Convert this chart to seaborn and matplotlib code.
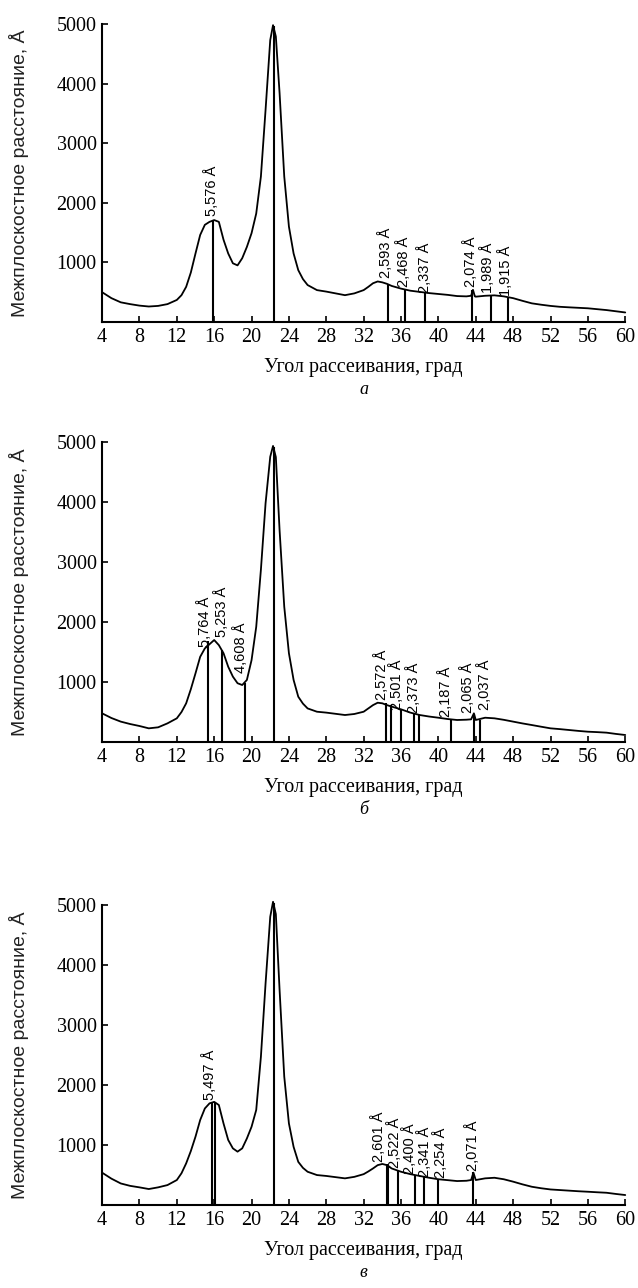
import matplotlib
matplotlib.use("Agg")
import pandas as pd
import seaborn as sns
import matplotlib.pyplot as plt

# --- data ---
angle_a = [4, 5, 6, 7, 8, 9, 10, 11, 12, 12.5, 13, 13.5, 14, 14.5, 15, 15.5, 16, 16.5, 17, 17.5,
           18, 18.5, 19, 19.5, 20, 20.5, 21, 21.5, 22, 22.3, 22.6, 23, 23.5, 24, 24.5, 25, 25.5,
           26, 27, 28, 29, 30, 31, 32, 32.5, 33, 33.5, 34, 34.5, 35, 36, 37, 38, 39, 40, 41, 42,
           43, 43.5, 43.7, 43.9, 44, 45, 46, 47, 48, 49, 50, 51, 52, 53, 54, 55, 56, 57, 58, 59, 60]
signal_a = [500, 400, 330, 300, 275, 260, 270, 300, 370, 450, 590, 830, 1150, 1460, 1630, 1680,
            1710, 1680, 1380, 1150, 985, 950, 1070, 1260, 1490, 1820, 2440, 3560, 4730, 4980, 4790,
            3840, 2440, 1600, 1150, 870, 720, 620, 535, 510, 480, 450, 480, 535, 590, 650, 680, 665,
            640, 605, 560, 525, 505, 485, 470, 455, 435, 430, 440, 540, 430, 425, 440, 447, 430,
            400, 355, 313, 290, 270, 255, 246, 238, 230, 215, 200, 180, 160]
peaks_a = [15.9, 22.4, 34.6, 36.45, 38.6, 43.65, 45.6, 47.45]
heights_a = [1700, 4960, 645, 560, 500, 535, 445, 405]
labels_a = ["5,576 Å", "2,593 Å", "2,468 Å", "2,337 Å", "2,074 Å", "1,989 Å", "1,915 Å"]
label_x_a = [15.75, 34.3, 36.25, 38.5, 43.4, 45.3, 47.15]
label_y_a = [1770, 735, 590, 485, 590, 490, 435]

angle_b = [4, 5, 6, 7, 8, 9, 10, 11, 12, 12.5, 13, 13.5, 14, 14.5, 15, 15.5, 16, 16.5, 17, 17.5,
           18, 18.5, 19, 19.5, 20, 20.5, 21, 21.5, 22, 22.3, 22.6, 23, 23.5, 24, 24.5, 25, 25.5,
           26, 27, 28, 29, 30, 31, 32, 32.5, 33, 33.5, 34, 34.5, 35, 36, 37, 38, 39, 40, 41, 42,
           43, 43.5, 43.8, 44, 45, 46, 47, 48, 49, 50, 51, 52, 53, 54, 55, 56, 57, 58, 59, 60]
signal_b = [478, 400, 340, 300, 267, 228, 245, 311, 395, 500, 645, 880, 1145, 1420, 1560, 1630,
            1700, 1615, 1480, 1255, 1090, 980, 950, 1035, 1365, 1920, 2870, 3980, 4755, 4935, 4750,
            3530, 2255, 1480, 1035, 755, 640, 560, 505, 490, 470, 450, 467, 505, 560, 615, 655, 645,
            615, 590, 545, 490, 450, 425, 405, 383, 367, 372, 378, 478, 367, 405, 395, 370, 340,
            310, 283, 255, 228, 215, 200, 185, 172, 165, 156, 135, 117]
peaks_b = [15.35, 16.85, 19.25, 22.4, 34.4, 34.9, 36.0, 37.4, 37.95, 41.3, 43.85, 44.5]
heights_b = [1680, 1540, 980, 4920, 650, 620, 545, 475, 455, 380, 460, 375]
labels_b = ["5,764 Å", "5,253 Å", "4,608 Å", "2,572 Å", "2,501 Å", "2,373 Å", "2,187 Å",
            "2,065 Å", "2,037 Å"]
label_x_b = [14.95, 16.75, 18.85, 33.9, 35.55, 37.3, 40.8, 43.15, 44.9]
label_y_b = [1590, 1755, 1150, 700, 533, 480, 420, 480, 533]

angle_c = [4, 5, 6, 7, 8, 9, 10, 11, 12, 12.5, 13, 13.5, 14, 14.5, 15, 15.5, 16, 16.5, 17, 17.5,
           18, 18.5, 19, 19.5, 20, 20.5, 21, 21.5, 22, 22.3, 22.6, 23, 23.5, 24, 24.5, 25, 25.5,
           26, 27, 28, 29, 30, 31, 32, 32.5, 33, 33.5, 34, 34.5, 35, 36, 37, 38, 39, 40, 41, 42,
           43, 43.5, 43.75, 44, 45, 46, 47, 48, 49, 50, 51, 52, 53, 54, 55, 56, 57, 58, 59, 60]
signal_c = [540, 440, 360, 320, 295, 267, 295, 333, 417, 530, 695, 900, 1140, 1417, 1610, 1695,
            1720, 1667, 1360, 1085, 945, 890, 945, 1110, 1305, 1585, 2470, 3695, 4805, 5055, 4850,
            3585, 2140, 1360, 970, 720, 620, 555, 500, 485, 465, 445, 470, 515, 560, 610, 665, 685,
            665, 610, 555, 515, 485, 455, 430, 415, 400, 405, 417, 540, 417, 445, 455, 430, 390,
            345, 305, 280, 260, 250, 240, 230, 222, 213, 205, 185, 167]
peaks_c = [15.8, 16.1, 22.4, 34.45, 34.6, 35.7, 37.5, 38.5, 40.0, 43.7]
heights_c = [1720, 1720, 5040, 680, 675, 590, 500, 470, 435, 545]
labels_c = ["5,497 Å", "2,601 Å", "2,522 Å", "2,400 Å", "2,341 Å", "2,254 Å", "2,071 Å"]
label_x_c = [15.5, 33.6, 35.25, 36.9, 38.55, 40.2, 43.6]
label_y_c = [1750, 720, 620, 520, 475, 455, 575]

x_ticks = list(range(4, 61, 4))
y_ticks = [1000, 2000, 3000, 4000, 5000]

sns.set_theme(style="ticks")
plt.rcParams['font.family'] = ['Liberation Serif', 'DejaVu Serif']

fig = plt.figure(figsize=(6.38, 12.88), dpi=100)


def draw_panel(rect, angle, signal, peaks, heights, labels, lab_x, lab_y, letter):
    ax = fig.add_axes(rect)
    df = pd.DataFrame({"angle": angle, "signal": signal})
    sns.lineplot(data=df, x="angle", y="signal", ax=ax, color="black", lw=1.3)
    ax.lines[-1].set_clip_on(False)
    ax.vlines(peaks, 0, heights, color="black", lw=1.5, clip_on=False)
    for t, x, y in zip(labels, lab_x, lab_y):
        ax.text(x, y, t, rotation=90, ha="center", va="bottom", fontsize=10.5,
                family=["Liberation Sans", "DejaVu Sans"], color="black")

    ax.set_xlim(4, 60)
    ax.set_ylim(0, 5000)
    ax.set_xticks(x_ticks)
    ax.set_yticks(y_ticks)
    ax.tick_params(direction="in", length=4, width=1.2, labelsize=14.5, pad=4, colors="black")
    sns.despine(ax=ax)
    for s in ("left", "bottom"):
        ax.spines[s].set_linewidth(1.5)
        ax.spines[s].set_color("black")

    ax.set_ylabel("Межплоскостное расстояние, Å", fontsize=14,
                  family=["Liberation Sans", "DejaVu Sans"], color="#222222")
    ax.yaxis.set_label_coords(-0.14, 0.5)
    ax.set_xlabel("Угол рассеивания, град", fontsize=14.5, color="black")
    ax.xaxis.set_label_coords(0.5, -0.12)
    ax.text(0.5, -0.225, letter, transform=ax.transAxes, ha="center", va="center",
            fontsize=13, style="italic", color="black")
    return ax


draw_panel([0.160, 0.750, 0.820, 0.2314], angle_a, signal_a, peaks_a, heights_a,
           labels_a, label_x_a, label_y_a, "а")
draw_panel([0.160, 0.4239, 0.820, 0.2329], angle_b, signal_b, peaks_b, heights_b,
           labels_b, label_x_b, label_y_b, "б")
draw_panel([0.160, 0.0644, 0.820, 0.2329], angle_c, signal_c, peaks_c, heights_c,
           labels_c, label_x_c, label_y_c, "в")

fig.savefig("out.png", dpi=100)
